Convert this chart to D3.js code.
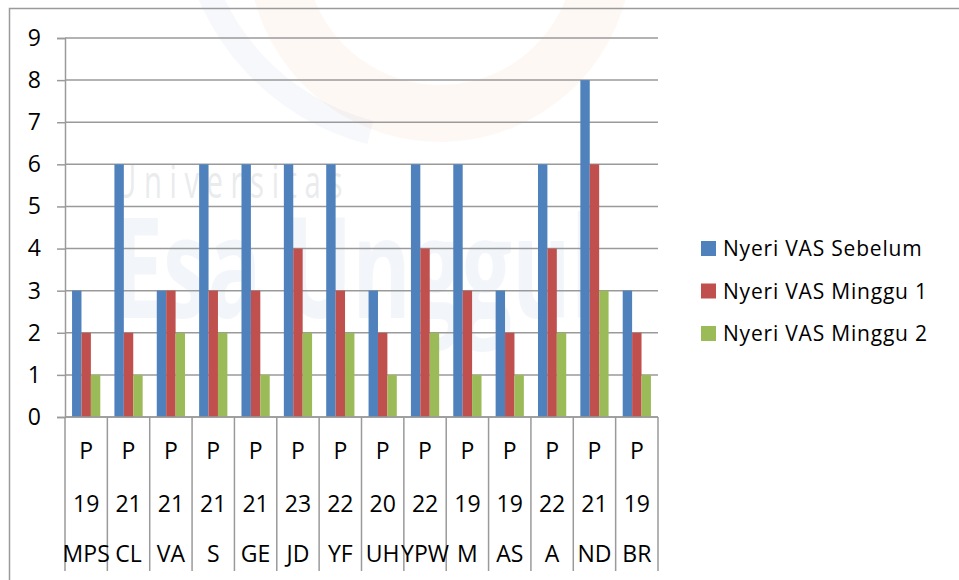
<!DOCTYPE html>
<html>
<head>
<meta charset="utf-8">
<script src="https://cdn.jsdelivr.net/npm/d3@7"></script>
<style>
  body { margin: 0; background: #fff; }
  text { font-family: "Open Sans", sans-serif; fill: #000; }
</style>
</head>
<body>
<div id="chart"></div>
<script>
var svgWidth = 959;
var svgHeight = 580;

// category axis: three levels (sex / age / initials)
var sexLabels = ["P", "P", "P", "P", "P", "P", "P", "P", "P", "P", "P", "P", "P", "P"];
var ageLabels = ["19", "21", "21", "21", "21", "23", "22", "20", "22", "19", "19", "22", "21", "19"];
var initials = ["MPS", "CL", "VA", "S", "GE", "JD", "YF", "UH", "YPW", "M", "AS", "A", "ND", "BR"];

var seriesNames = ["Nyeri VAS Sebelum", "Nyeri VAS Minggu 1", "Nyeri VAS Minggu 2"];
var sebelum = [3, 6, 3, 6, 6, 6, 6, 3, 6, 6, 3, 6, 8, 3];
var minggu1 = [2, 2, 3, 3, 3, 4, 3, 2, 4, 3, 2, 4, 6, 2];
var minggu2 = [1, 1, 2, 2, 1, 2, 2, 1, 2, 1, 1, 2, 3, 1];
var yTicks = [0, 1, 2, 3, 4, 5, 6, 7, 8, 9];

var colors = ["#4F81BD", "#C0504D", "#9BBB59"];
var seriesValues = [sebelum, minggu1, minggu2];

var margin = { top: 38, left: 65 };
var chartWidth = 658 - margin.left;
var chartHeight = 417 - margin.top;

var svg = d3.select("#chart")
  .append("svg")
  .attr("width", svgWidth)
  .attr("height", svgHeight);

// faint watermark in the background (logo arcs + university name)
var wm = svg.append("g").attr("class", "watermark");
wm.append("path")
  .attr("d", d3.arc()({ innerRadius: 135, outerRadius: 192, startAngle: Math.PI * 0.55, endAngle: Math.PI * 1.42 }))
  .attr("transform", "translate(440, -50)")
  .attr("fill", "#F7A27C")
  .attr("opacity", 0.08);
wm.append("path")
  .attr("d", d3.arc()({ innerRadius: 228, outerRadius: 252, startAngle: Math.PI * 1.08, endAngle: Math.PI * 1.45 }))
  .attr("transform", "translate(430, -100)")
  .attr("fill", "#7FA0CC")
  .attr("opacity", 0.07);

function fitText(sel, width) {
  var w = sel.node().getComputedTextLength();
  var x = +sel.attr("x"), y = +sel.attr("y");
  sel.attr("x", 0).attr("y", 0)
    .attr("transform", `translate(${x}, ${y}) scale(${width / w}, 1)`);
}
var uni = wm.append("text")
  .attr("x", 115).attr("y", 198)
  .style("font-size", "46px")
  .style("letter-spacing", "12px")
  .style("fill", "#B8BEC6")
  .style("opacity", 0.3)
  .text("Universitas");
fitText(uni, 235);
var esa = wm.append("text")
  .attr("x", 113).attr("y", 318)
  .style("font-size", "140px")
  .style("font-weight", "bold")
  .style("fill", "#3E6FB0")
  .style("opacity", 0.06)
  .text("Esa Unggul");
fitText(esa, 485);

// outer chart border (left and top visible)
svg.append("path")
  .attr("d", "M9.5,580 V8.5 H959")
  .attr("fill", "none")
  .attr("stroke", "#9A9A9A")
  .attr("stroke-width", 1.5);

var chartGroup = svg.append("g")
  .attr("transform", `translate(${margin.left}, ${margin.top})`);

var xBandScale = d3.scaleBand()
  .domain(initials)
  .range([0, chartWidth]);

var yLinearScale = d3.scaleLinear()
  .domain([0, 9])
  .range([chartHeight, 0]);

// horizontal gridlines
chartGroup.append("g")
  .selectAll("line")
  .data(yTicks)
  .enter()
  .append("line")
  .attr("x1", 0)
  .attr("x2", chartWidth)
  .attr("y1", d => yLinearScale(d))
  .attr("y2", d => yLinearScale(d))
  .attr("stroke", "#9A9A9A")
  .attr("stroke-width", 1.5);

// left axis
var leftAxis = d3.axisLeft(yLinearScale).tickValues(yTicks).tickSize(8).tickPadding(12);
var yAxisG = chartGroup.append("g").call(leftAxis);
yAxisG.select(".domain").attr("stroke", "#9A9A9A").attr("stroke-width", 1.5);
yAxisG.selectAll(".tick line").attr("stroke", "#9A9A9A").attr("stroke-width", 1.5);
yAxisG.selectAll("text")
  .attr("x", -24)
  .style("font-size", "23px")
  .style("font-family", "'Open Sans', sans-serif")
  .attr("fill", "#000");

// bars
var barW = xBandScale.bandwidth() / 4.5;
var offset = xBandScale.bandwidth() * 0.75 / 4.5;
seriesValues.forEach(function(vals, s) {
  chartGroup.append("g")
    .selectAll("rect")
    .data(vals)
    .enter()
    .append("rect")
    .attr("x", (d, i) => xBandScale(initials[i]) + offset + s * barW)
    .attr("y", d => yLinearScale(d))
    .attr("width", barW)
    .attr("height", d => chartHeight - yLinearScale(d))
    .attr("fill", colors[s]);
});

// category axis with dividers and three label rows
var catG = chartGroup.append("g").attr("transform", `translate(0, ${chartHeight})`);
catG.append("line")
  .attr("x1", 0).attr("x2", chartWidth)
  .attr("y1", 0).attr("y2", 0)
  .attr("stroke", "#9A9A9A").attr("stroke-width", 1.5);
var bounds = initials.map(d => xBandScale(d)).concat([chartWidth]);
catG.selectAll(".divider")
  .data(bounds)
  .enter()
  .append("line")
  .attr("class", "divider")
  .attr("x1", d => d).attr("x2", d => d)
  .attr("y1", 0).attr("y2", 154)
  .attr("stroke", "#9A9A9A").attr("stroke-width", 1.5);

var rows = [sexLabels, ageLabels, initials];
var rowY = [42, 95, 145];
rows.forEach(function(labels, r) {
  catG.append("g")
    .selectAll("text")
    .data(labels)
    .enter()
    .append("text")
    .attr("x", (d, i) => xBandScale(initials[i]) + xBandScale.bandwidth() / 2)
    .attr("y", rowY[r])
    .attr("text-anchor", "middle")
    .style("font-size", "23px")
    .text(d => d);
});

// legend
var legend = svg.append("g").attr("transform", "translate(701, 248)");
seriesNames.forEach(function(name, i) {
  var row = legend.append("g").attr("transform", `translate(0, ${i * 42.5})`);
  row.append("rect")
    .attr("x", 0).attr("y", -7)
    .attr("width", 15).attr("height", 15)
    .attr("fill", colors[i]);
  row.append("text")
    .attr("x", 22).attr("y", 8)
    .style("font-size", "21px")
    .style("letter-spacing", "0.8px")
    .text(name);
});
</script>
</body>
</html>
